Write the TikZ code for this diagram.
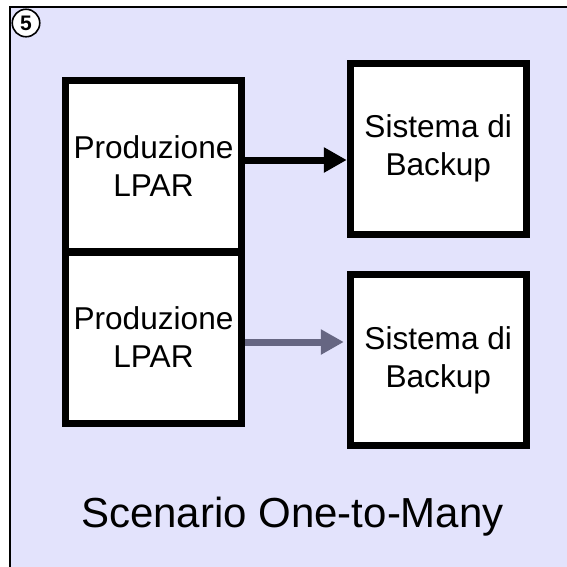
\documentclass[tikz,border=0pt]{standalone}
\usepackage{fontspec}
\setmainfont{Liberation Sans}
\usepackage{tikz}
\usetikzlibrary{arrows.meta}
\usepackage{xcolor}
\definecolor{lavanda}{RGB}{227,227,252}
\definecolor{grigioblu}{RGB}{102,102,130}

\begin{document}
\begin{tikzpicture}[x=1pt, y=-1pt,
    lpar/.style={draw, line width=7pt, fill=white, minimum width=176pt, minimum height=171pt,
        inner sep=0pt, align=center, font=\fontsize{31.6}{38}\selectfont},
    flusso/.style={line width=7pt, -{Triangle[length=23pt,width=24pt]}}]
    \useasboundingbox (0,0) rectangle (567,566);
    \draw[line width=2pt, fill=lavanda] (10,7) rectangle (600,600);
    \node[circle, draw, line width=1.6pt, fill=white, minimum size=27.5pt, inner sep=0pt,
        font=\fontsize{21}{22}\selectfont\bfseries] (num) at (26,23) {5};
    \node[lpar] (prod1) at (153.5,166) {Produzione\\LPAR};
    \node[lpar] (prod2) at (153.5,337.5) {Produzione\\LPAR};
    \node[lpar] (back1) at (438.25,148.75) {Sistema di\\Backup};
    \node[lpar] (back2) at (438.25,360) {Sistema di\\Backup};
    \draw[flusso] ([yshift=6pt]prod1.east) -- ([yshift=6pt]prod1.east -| back1.west);
    \draw[flusso, grigioblu, shorten >=3pt] ([yshift=-4.5pt]prod2.east) -- ([yshift=-4.5pt]prod2.east -| back2.west);
    \node[anchor=base, font=\fontsize{42}{48}\selectfont] (titolo) at (292.5,527) {Scenario One-to-Many};
\end{tikzpicture}
\end{document}
